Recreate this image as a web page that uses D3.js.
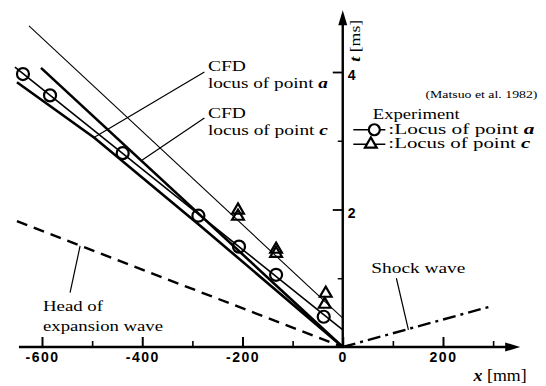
<!DOCTYPE html>
<html>
<head>
<meta charset="utf-8">
<script src="https://cdn.jsdelivr.net/npm/d3@7"></script>
<style>
  body { margin: 0; background: #fff; }
  text { fill: #000; }
</style>
</head>
<body>
<svg id="chart"></svg>
<script>
// axis ticks
const xTicks = [-600, -400, -200, 0, 200];
const xMinor = [-500, -300, -100, 100, 300];
const yTicks = [2, 4];
const yMinor = [1, 3];

// experiment (Matsuo et al. 1982), [x mm, t ms]
const circlesA = [[-638, 3.97], [-584, 3.66], [-439, 2.82], [-288, 1.91], [-207, 1.46], [-133, 1.05], [-38, 0.44]];
const trianglesC = [[-209, 1.99], [-209, 1.9], [-133, 1.42], [-133, 1.36], [-34, 0.78], [-36, 0.62]];

// lines, [x mm, t ms]
const lineTop = [[-626, 4.67], [0, 0.42]];
const lineCircles = [[-654, 4.07], [0, 0.25]];
const cfdA = [[-650, 3.85], [-495, 3.04], [-282, 1.75], [0, 0]];
const cfdC = [[-602, 4.06], [0, 0]];
const expansionHead = [[-650, 1.83], [0, 0]];
const shockWave = [[0, 0], [300, 0.6]];

const width = 546;
const height = 386;

const svg = d3.select("#chart")
  .attr("width", width)
  .attr("height", height)
  .attr("viewBox", [0, 0, width, height]);

const x = d3.scaleLinear().domain([-600, 200]).range([42, 443]);
const y = d3.scaleLinear().domain([0, 4]).range([347, 72]);

const line = d3.line().x(d => x(d[0])).y(d => y(d[1]));

// data lines
svg.append("path").attr("d", line(lineTop))
  .attr("fill", "none").attr("stroke", "#000").attr("stroke-width", 1.1);
svg.append("path").attr("d", line(lineCircles))
  .attr("fill", "none").attr("stroke", "#000").attr("stroke-width", 1.6);
svg.append("path").attr("d", line(cfdA))
  .attr("fill", "none").attr("stroke", "#000").attr("stroke-width", 2.6);
svg.append("path").attr("d", line(cfdC))
  .attr("fill", "none").attr("stroke", "#000").attr("stroke-width", 2.6);
svg.append("path").attr("d", line(expansionHead))
  .attr("fill", "none").attr("stroke", "#000").attr("stroke-width", 2.4)
  .attr("stroke-dasharray", "11,7");
svg.append("path").attr("d", line(shockWave))
  .attr("fill", "none").attr("stroke", "#000").attr("stroke-width", 2.4)
  .attr("stroke-dasharray", "13,5,3,5");

// markers
svg.append("g").selectAll("circle")
  .data(circlesA)
  .join("circle")
  .attr("cx", d => x(d[0]))
  .attr("cy", d => y(d[1]))
  .attr("r", 6)
  .attr("fill", "none")
  .attr("stroke", "#000")
  .attr("stroke-width", 2.2);

const tri = d3.symbol(d3.symbolTriangle, 60);
svg.append("g").selectAll("path")
  .data(trianglesC)
  .join("path")
  .attr("transform", d => `translate(${x(d[0])},${y(d[1])})`)
  .attr("d", tri)
  .attr("fill", "none")
  .attr("stroke", "#000")
  .attr("stroke-width", 2.2);

// axes
const x0 = x(0), y0 = y(0);
const xEnd = x(354), yEnd = y(4.9);

svg.append("line")
  .attr("x1", x(-646)).attr("x2", xEnd - 6)
  .attr("y1", y0).attr("y2", y0)
  .attr("stroke", "#000").attr("stroke-width", 2.4);
svg.append("path")
  .attr("d", `M${xEnd},${y0}L${xEnd - 15},${y0 - 4.5}L${xEnd - 15},${y0 + 4.5}Z`)
  .attr("fill", "#000");

svg.append("line")
  .attr("x1", x0).attr("x2", x0)
  .attr("y1", y0).attr("y2", yEnd + 6)
  .attr("stroke", "#000").attr("stroke-width", 2.4);
svg.append("path")
  .attr("d", `M${x0},${yEnd}L${x0 - 4.5},${yEnd + 15}L${x0 + 4.5},${yEnd + 15}Z`)
  .attr("fill", "#000");

const tickFont = g => g
  .attr("font-family", "'Liberation Sans', Arial, sans-serif")
  .attr("font-size", 14)
  .attr("font-weight", "bold");

svg.append("g")
  .attr("transform", `translate(0,${y0})`)
  .call(d3.axisBottom(x).tickValues(xTicks).tickSizeInner(-10).tickSizeOuter(0)
    .tickPadding(5).tickFormat(d => String(d)))
  .call(tickFont)
  .call(g => g.select(".domain").remove())
  .call(g => g.selectAll(".tick line").attr("stroke-width", 2))
  .call(g => g.selectAll(".tick text").attr("letter-spacing", 1.5));

svg.append("g")
  .attr("transform", `translate(0,${y0})`)
  .call(d3.axisBottom(x).tickValues(xMinor).tickSizeInner(-6).tickSizeOuter(0).tickFormat(""))
  .call(g => g.select(".domain").remove())
  .call(g => g.selectAll(".tick line").attr("stroke-width", 1.6));

svg.append("g")
  .attr("transform", `translate(${x0},0)`)
  .call(d3.axisRight(y).tickValues(yTicks).tickSizeInner(-10).tickSizeOuter(0)
    .tickPadding(5).tickFormat(d => String(d)))
  .call(tickFont)
  .call(g => g.select(".domain").remove())
  .call(g => g.selectAll(".tick line").attr("stroke-width", 1.8))
  .call(g => g.selectAll(".tick text").attr("dy", "0.55em"));

svg.append("g")
  .attr("transform", `translate(${x0},0)`)
  .call(d3.axisRight(y).tickValues(yMinor).tickSizeInner(-5).tickSizeOuter(0).tickFormat(""))
  .call(g => g.select(".domain").remove())
  .call(g => g.selectAll(".tick line").attr("stroke-width", 1.4));

// text labels
const serif = "'Liberation Serif', 'Times New Roman', serif";

function label(px, py, parts, size, len) {
  const t = svg.append("text")
    .attr("x", px).attr("y", py)
    .attr("font-family", serif)
    .attr("font-size", size);
  if (len) t.attr("textLength", len).attr("lengthAdjust", "spacingAndGlyphs");
  parts.forEach(p => {
    const s = t.append("tspan").text(p[0]);
    if (p[1]) s.attr("font-weight", "bold").attr("font-style", "italic");
  });
  return t;
}

function pointer(a, b, w) {
  svg.append("line")
    .attr("x1", x(a[0])).attr("y1", y(a[1]))
    .attr("x2", x(b[0])).attr("y2", y(b[1]))
    .attr("stroke", "#000").attr("stroke-width", w || 1.2);
}

// CFD labels
label(x(-269), y(4.01), [["CFD"]], 15, 38);
label(x(-269), y(3.77), [["locus of point "], ["a", true]], 14.5, 120);
pointer([-276, 4.0], [-498, 3.04]);

label(x(-269), y(3.33), [["CFD"]], 15, 38);
label(x(-269), y(3.09), [["locus of point "], ["c", true]], 14.5, 120);
pointer([-276, 3.33], [-400, 2.72]);

// experiment legend
label(x(165), y(3.62), [["(Matsuo et al. 1982)"]], 10, 112);
label(x(60), y(3.31), [["Experiment"]], 14.5, 87);

svg.append("line")
  .attr("x1", x(21)).attr("x2", x(85))
  .attr("y1", y(3.16)).attr("y2", y(3.16))
  .attr("stroke", "#000").attr("stroke-width", 1.6);
svg.append("circle")
  .attr("cx", x(63)).attr("cy", y(3.16)).attr("r", 5.5)
  .attr("fill", "#fff").attr("stroke", "#000").attr("stroke-width", 2.2);
label(x(91), y(3.10), [[":Locus of point "], ["a", true]], 14, 146);

svg.append("line")
  .attr("x1", x(21)).attr("x2", x(85))
  .attr("y1", y(2.95)).attr("y2", y(2.95))
  .attr("stroke", "#000").attr("stroke-width", 1.6);
svg.append("path")
  .attr("transform", `translate(${x(56)},${y(2.95)})`)
  .attr("d", tri)
  .attr("fill", "#fff").attr("stroke", "#000").attr("stroke-width", 2.2);
label(x(91), y(2.89), [[":Locus of point "], ["c", true]], 14, 142);

// wave labels
label(x(57), y(1.08), [["Shock wave"]], 15, 94);
pointer([107, 1.0], [131, 0.25]);

label(x(-598), y(0.52), [["Head of"]], 15, 60);
label(x(-598), y(0.23), [["expansion wave"]], 15, 120);
pointer([-524, 1.47], [-544, 0.79]);

// axis titles
label(0, 0, [["t", true], [" [ms]"]], 14, 42)
  .attr("transform", `translate(${x0 + 17},${y(4.15)}) rotate(-90)`);
label(x(261), y(-0.49), [["x", true], [" [mm]"]], 16, 53);
</script>
</body>
</html>
